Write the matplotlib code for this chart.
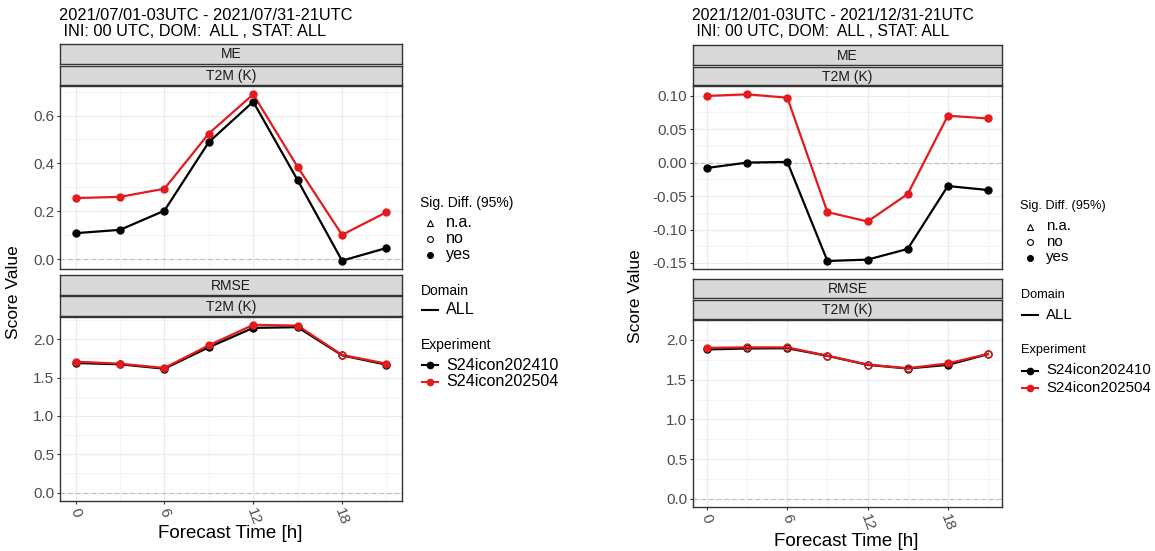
import matplotlib.pyplot as plt
from matplotlib.lines import Line2D

plt.rcParams['font.family'] = ['Liberation Sans', 'DejaVu Sans']

W, H = 1155, 551

lead_times = [0, 3, 6, 9, 12, 15, 18, 21]
x_ticks = [0, 6, 12, 18]
x_minor = [3, 9, 15, 21]
experiments = ["S24icon202410", "S24icon202504"]
exp_colors = ["#000000", "#E41A1C"]

# July 2021
jul_me_410 = [0.108, 0.122, 0.202, 0.489, 0.658, 0.330, -0.007, 0.046]
jul_me_504 = [0.255, 0.260, 0.294, 0.525, 0.689, 0.385, 0.101, 0.196]
jul_me_sig = ["yes"] * 8
jul_rmse_410 = [1.690, 1.673, 1.616, 1.895, 2.148, 2.157, 1.790, 1.668]
jul_rmse_504 = [1.707, 1.681, 1.625, 1.920, 2.187, 2.178, 1.795, 1.681]
jul_rmse_sig = ["yes", "yes", "yes", "yes", "yes", "yes", "no", "yes"]

# December 2021
dec_me_410 = [-0.008, 0.000, 0.001, -0.147, -0.145, -0.129, -0.035, -0.041]
dec_me_504 = [0.0996, 0.102, 0.097, -0.074, -0.088, -0.047, 0.070, 0.066]
dec_me_sig = ["yes"] * 8
dec_rmse_410 = [1.880, 1.892, 1.895, 1.800, 1.686, 1.640, 1.686, 1.820]
dec_rmse_504 = [1.900, 1.906, 1.906, 1.800, 1.690, 1.643, 1.704, 1.824]
dec_rmse_sig = ["yes", "no", "no", "no", "no", "no", "yes", "no"]

jul_me_ticks = [0.0, 0.2, 0.4, 0.6]
jul_me_labels = ["0.0", "0.2", "0.4", "0.6"]
dec_me_ticks = [-0.15, -0.10, -0.05, 0.0, 0.05, 0.10]
dec_me_labels = ["-0.15", "-0.10", "-0.05", "0.00", "0.05", "0.10"]
rmse_ticks = [0.0, 0.5, 1.0, 1.5, 2.0]
rmse_labels = ["0.0", "0.5", "1.0", "1.5", "2.0"]

titles = [
    ("2021/07/01-03UTC - 2021/07/31-21UTC", " INI: 00 UTC, DOM:  ALL , STAT: ALL"),
    ("2021/12/01-03UTC - 2021/12/31-21UTC", " INI: 00 UTC, DOM:  ALL , STAT: ALL"),
]
sig_labels = ["n.a.", "no", "yes"]

GREY_TXT = "#4D4D4D"
DARK = "#333333"


def rect(l, t, r, b):
    return [l / W, 1 - b / H, (r - l) / W, (b - t) / H]


def yfig(py):
    return 1 - py / H


def xfig(px):
    return px / W


def limits(*series):
    vals = [v for s in series for v in s] + [0.0]
    lo, hi = min(vals), max(vals)
    pad = 0.05 * (hi - lo)
    return lo - pad, hi + pad


def strip(fig, l, t, r, b, text):
    ax = fig.add_axes(rect(l, t, r, b))
    ax.set_facecolor("#D9D9D9")
    ax.set_xticks([])
    ax.set_yticks([])
    for sp in ax.spines.values():
        sp.set_color(DARK)
        sp.set_linewidth(1.0)
    ax.text(0.5, 0.45, text, ha="center", va="center", fontsize=10,
            color="#1A1A1A", transform=ax.transAxes)


def panel(fig, box, s410, s504, sig, ticks, labels, minor, bottom):
    ax = fig.add_axes(rect(*box))
    ax.set_xlim(-1.05, 22.05)
    ax.set_ylim(*limits(s410, s504))
    ax.set_xticks(x_ticks)
    ax.set_xticks(x_minor, minor=True)
    ax.set_yticks(ticks)
    ax.set_yticklabels(labels)
    ax.set_yticks(minor, minor=True)
    ax.grid(which="major", color="#EBEBEB", lw=0.9)
    ax.grid(which="minor", color="#F0F0F0", lw=0.5)
    ax.set_axisbelow(True)
    ax.tick_params(which="minor", length=0)
    ax.tick_params(which="major", length=2.5, width=0.8, color=DARK,
                   labelsize=11, labelcolor=GREY_TXT, pad=1.5)
    for sp in ax.spines.values():
        sp.set_color(DARK)
        sp.set_linewidth(1.0)
    ax.axhline(0, color="#BDBDBD", lw=0.8, ls=(0, (4, 3)), zorder=1.5)
    for vals, color in zip([s410, s504], exp_colors):
        ax.plot(lead_times, vals, color=color, lw=1.6, zorder=2)
        for x, v, s in zip(lead_times, vals, sig):
            ax.plot(x, v, "o", ms=5, mfc=color if s == "yes" else "none",
                    mec=color, mew=1.0, zorder=3)
    if bottom:
        ax.set_xticklabels([str(t) for t in x_ticks], rotation=-70,
                           ha="center", va="top")
    else:
        ax.tick_params(axis="x", length=0, labelbottom=False)
    return ax


def legend(fig, x0, ys, size):
    xt, xs, xl = x0, x0 + 9.5, x0 + 25.5
    small = size - 1.6
    fig.text(xfig(xt), yfig(ys[0]), "Sig. Diff. (95%)", fontsize=small,
             va="center", ha="left")
    markers = [("^", "none"), ("o", "none"), ("o", "black")]
    for (m, fc), lab, y in zip(markers, sig_labels, ys[1:4]):
        fig.add_artist(Line2D([xfig(xs)], [yfig(y)], marker=m, ms=4.2,
                              mfc=fc, mec="black", mew=0.8, ls="none"))
        fig.text(xfig(xl), yfig(y), lab, fontsize=size, va="center", ha="left")
    fig.text(xfig(xt), yfig(ys[4]), "Domain", fontsize=small, va="center", ha="left")
    fig.add_artist(Line2D([xfig(xt + 1), xfig(xt + 17)], [yfig(ys[5])] * 2,
                          color="black", lw=1.5))
    fig.text(xfig(xl), yfig(ys[5]), "ALL", fontsize=size, va="center", ha="left")
    fig.text(xfig(xt), yfig(ys[6]), "Experiment", fontsize=small, va="center", ha="left")
    for name, color, y in zip(experiments, exp_colors, ys[7:9]):
        fig.add_artist(Line2D([xfig(xt + 1), xfig(xt + 17)], [yfig(y)] * 2,
                              color=color, lw=1.5))
        fig.add_artist(Line2D([xfig(xs)], [yfig(y)], marker="o", ms=4.5,
                              color=color, ls="none"))
        fig.text(xfig(xl), yfig(y), name, fontsize=size, va="center", ha="left")


fig = plt.figure(figsize=(W / 100, H / 100), dpi=100)
fig.patch.set_facecolor("white")

me_minor_jul = [0.1, 0.3, 0.5, 0.7]
me_minor_dec = [-0.125, -0.075, -0.025, 0.025, 0.075]
rmse_minor = [0.25, 0.75, 1.25, 1.75, 2.25]

# left figure (July)
fig.text(xfig(59), yfig(16), titles[0][0], fontsize=11.8, va="center", ha="left")
fig.text(xfig(59), yfig(31), titles[0][1], fontsize=11.8, va="center", ha="left")
strip(fig, 60, 43.5, 402, 63.5, "ME")
strip(fig, 60, 65.5, 402, 84.5, "T2M (K)")
panel(fig, (60, 86, 402, 269), jul_me_410, jul_me_504, jul_me_sig,
      jul_me_ticks, jul_me_labels, me_minor_jul, False)
strip(fig, 60, 275, 402, 294.5, "RMSE")
strip(fig, 60, 296, 402, 315.5, "T2M (K)")
panel(fig, (60, 316.5, 402, 501), jul_rmse_410, jul_rmse_504, jul_rmse_sig,
      rmse_ticks, rmse_labels, rmse_minor, True)
fig.text(xfig(14), yfig(292), "Score Value", fontsize=12.5, rotation=90,
         va="center", ha="center")
fig.text(xfig(230), yfig(534), "Forecast Time [h]", fontsize=13.5,
         va="center", ha="center")
legend(fig, 420.5, [202.5, 222.5, 238.5, 255, 291, 310, 345.5, 365, 382], 11.6)

# right figure (December)
fig.text(xfig(692), yfig(16), titles[1][0], fontsize=11.3, va="center", ha="left")
fig.text(xfig(692), yfig(31), titles[1][1], fontsize=11.3, va="center", ha="left")
strip(fig, 693, 44.5, 1002, 64.5, "ME")
strip(fig, 693, 66.5, 1002, 85, "T2M (K)")
panel(fig, (693, 86, 1002, 269.3), dec_me_410, dec_me_504, dec_me_sig,
      dec_me_ticks, dec_me_labels, me_minor_dec, False)
strip(fig, 693, 278.5, 1002, 298, "RMSE")
strip(fig, 693, 299.5, 1002, 319.3, "T2M (K)")
panel(fig, (693, 320, 1002, 506.5), dec_rmse_410, dec_rmse_504, dec_rmse_sig,
      rmse_ticks, rmse_labels, rmse_minor, True)
fig.text(xfig(635), yfig(296), "Score Value", fontsize=12.5, rotation=90,
         va="center", ha="center")
fig.text(xfig(846), yfig(541), "Forecast Time [h]", fontsize=13.5,
         va="center", ha="center")
legend(fig, 1020.5, [206, 226.5, 241.5, 257.5, 294.5, 315, 350.5, 370.5, 387.5], 10.8)

fig.savefig("out.png", dpi=100, facecolor="white")
